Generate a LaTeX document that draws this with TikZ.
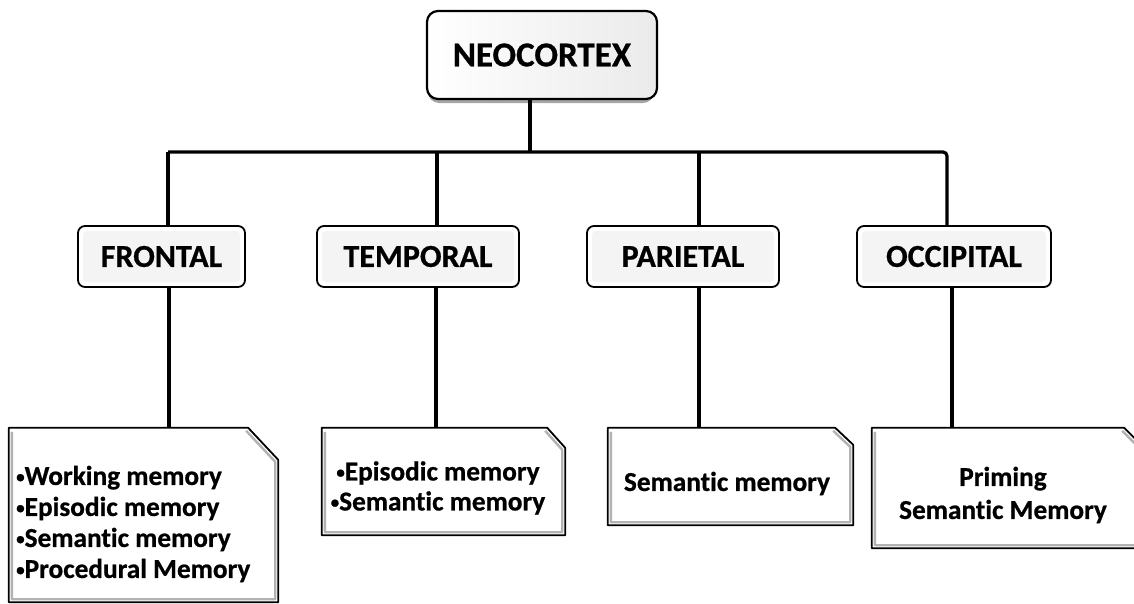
\documentclass[tikz,border=0pt]{standalone}
\usepackage{fontspec}
\setmainfont{Carlito}[Ligatures=NoCommon, BoldFeatures={FakeBold=0.7}]
\newcommand\bul{{\fontsize{17}{17}\selectfont\raisebox{2.5pt}{•}}}
\newcommand\noteoutline[3]{%
  \draw[line width=1.8pt, fill=white, line join=round]
    (#1.north west) -- ([xshift=-#2]#1.north east) -- ([yshift=-#3]#1.north east)
    -- (#1.south east) -- (#1.south west) -- cycle;
  \draw[line width=2.4pt, gray!60, line join=round]
    ([shift={(3pt,-4pt)}]#1.north west) -- ([shift={(3pt,3pt)}]#1.south west)
    -- ([shift={(-3pt,3pt)}]#1.south east) -- ([shift={(-3pt,-#3-2pt)}]#1.north east)
    -- ([shift={(-#2-2pt,-3pt)}]#1.north east);
}
\begin{document}
\begin{tikzpicture}[x=1pt,y=-1pt,
  conn/.style={line width=3.2pt, black},
  topbox/.style={draw, line width=2.2pt, rounded corners=11pt, minimum width=230pt,
    minimum height=88pt, left color=white, right color=gray!16,
    font=\bfseries\fontsize{35}{40}\selectfont},
  lobe/.style={draw, line width=1.8pt, rounded corners=7pt, fill=white,
    minimum height=61pt, inner sep=0pt,
    font=\bfseries\fontsize{32}{36}\selectfont,
    path picture={\fill[gray!9, rounded corners=4pt]
      ([shift={(5pt,-5pt)}]path picture bounding box.north west) rectangle
      ([shift={(-5pt,5pt)}]path picture bounding box.south east);}},
  notebox/.style={inner sep=0pt},
  notetext/.style={inner sep=0pt, font=\bfseries\fontsize{27.3}{31}\selectfont}]
\useasboundingbox (0,0) rectangle (1134,603);
\clip (0,0) rectangle (1134,603);

% top box with shadow
\fill[gray!70, rounded corners=11pt] (428,14) rectangle (654,103);
\node[topbox] (neo) at (542,55) {NEOCORTEX};

% lobes
\node[lobe, minimum width=167pt] (fr) at (161.5,256.5) {FRONTAL};
\node[lobe, minimum width=202pt] (te) at (418,256.5) {TEMPORAL};
\node[lobe, minimum width=192pt] (pa) at (683,256.5) {PARIETAL};
\node[lobe, minimum width=194pt] (oc) at (954,256.5) {OCCIPITAL};

% memory boxes
\node[notebox, minimum width=269pt, minimum height=174pt] (fb) at (143.5,515) {};
\node[notebox, minimum width=243pt, minimum height=107pt] (tb) at (443.5,481.5) {};
\node[notebox, minimum width=245pt, minimum height=97pt] (pb) at (730.5,476.5) {};
\node[notebox, minimum width=280pt, minimum height=120pt] (ob) at (1012,488) {};
\noteoutline{fb}{30pt}{32pt}
\noteoutline{tb}{18pt}{20pt}
\noteoutline{pb}{18pt}{17pt}
\noteoutline{ob}{28pt}{28pt}

\node[notetext, align=left, anchor=west] (ft) at (16,524)
  {\bul Working memory\\\bul Episodic memory\\\bul Semantic memory\\\bul Procedural Memory};
\node[notetext, align=center, font=\bfseries\fontsize{27.3}{30}\selectfont] (tt) at (438,488)
  {\bul Episodic memory\\\bul Semantic memory};
\node[notetext] (pt) at (727,483.5) {Semantic memory};
\node[notetext, align=center, font=\bfseries\fontsize{27.3}{33}\selectfont] (ot) at (1003,495)
  {Priming\\Semantic Memory};

% connectors
\coordinate (b0) at (530,152);
\coordinate (jf) at (168,152);
\coordinate (jt) at (437,152);
\coordinate (jp) at (699,152);
\coordinate (jo) at (947,152);
\draw[conn] (neo.south -| b0) -- (b0);
\draw[conn, rounded corners=4pt] (jf) -- (jo) -- (jo |- oc.north);
\draw[conn] (jf) -- (jf |- fr.north);
\draw[conn] (jt) -- (jt |- te.north);
\draw[conn] (jp) -- (jp |- pa.north);

\coordinate (kf) at (169,428);
\coordinate (kt) at (436,428);
\coordinate (kp) at (699,428);
\coordinate (ko) at (952,428);
\draw[conn] (kf |- fr.south) -- (kf);
\draw[conn] (kt |- te.south) -- (kt);
\draw[conn] (kp |- pa.south) -- (kp);
\draw[conn] (ko |- oc.south) -- (ko);
\end{tikzpicture}
\end{document}
